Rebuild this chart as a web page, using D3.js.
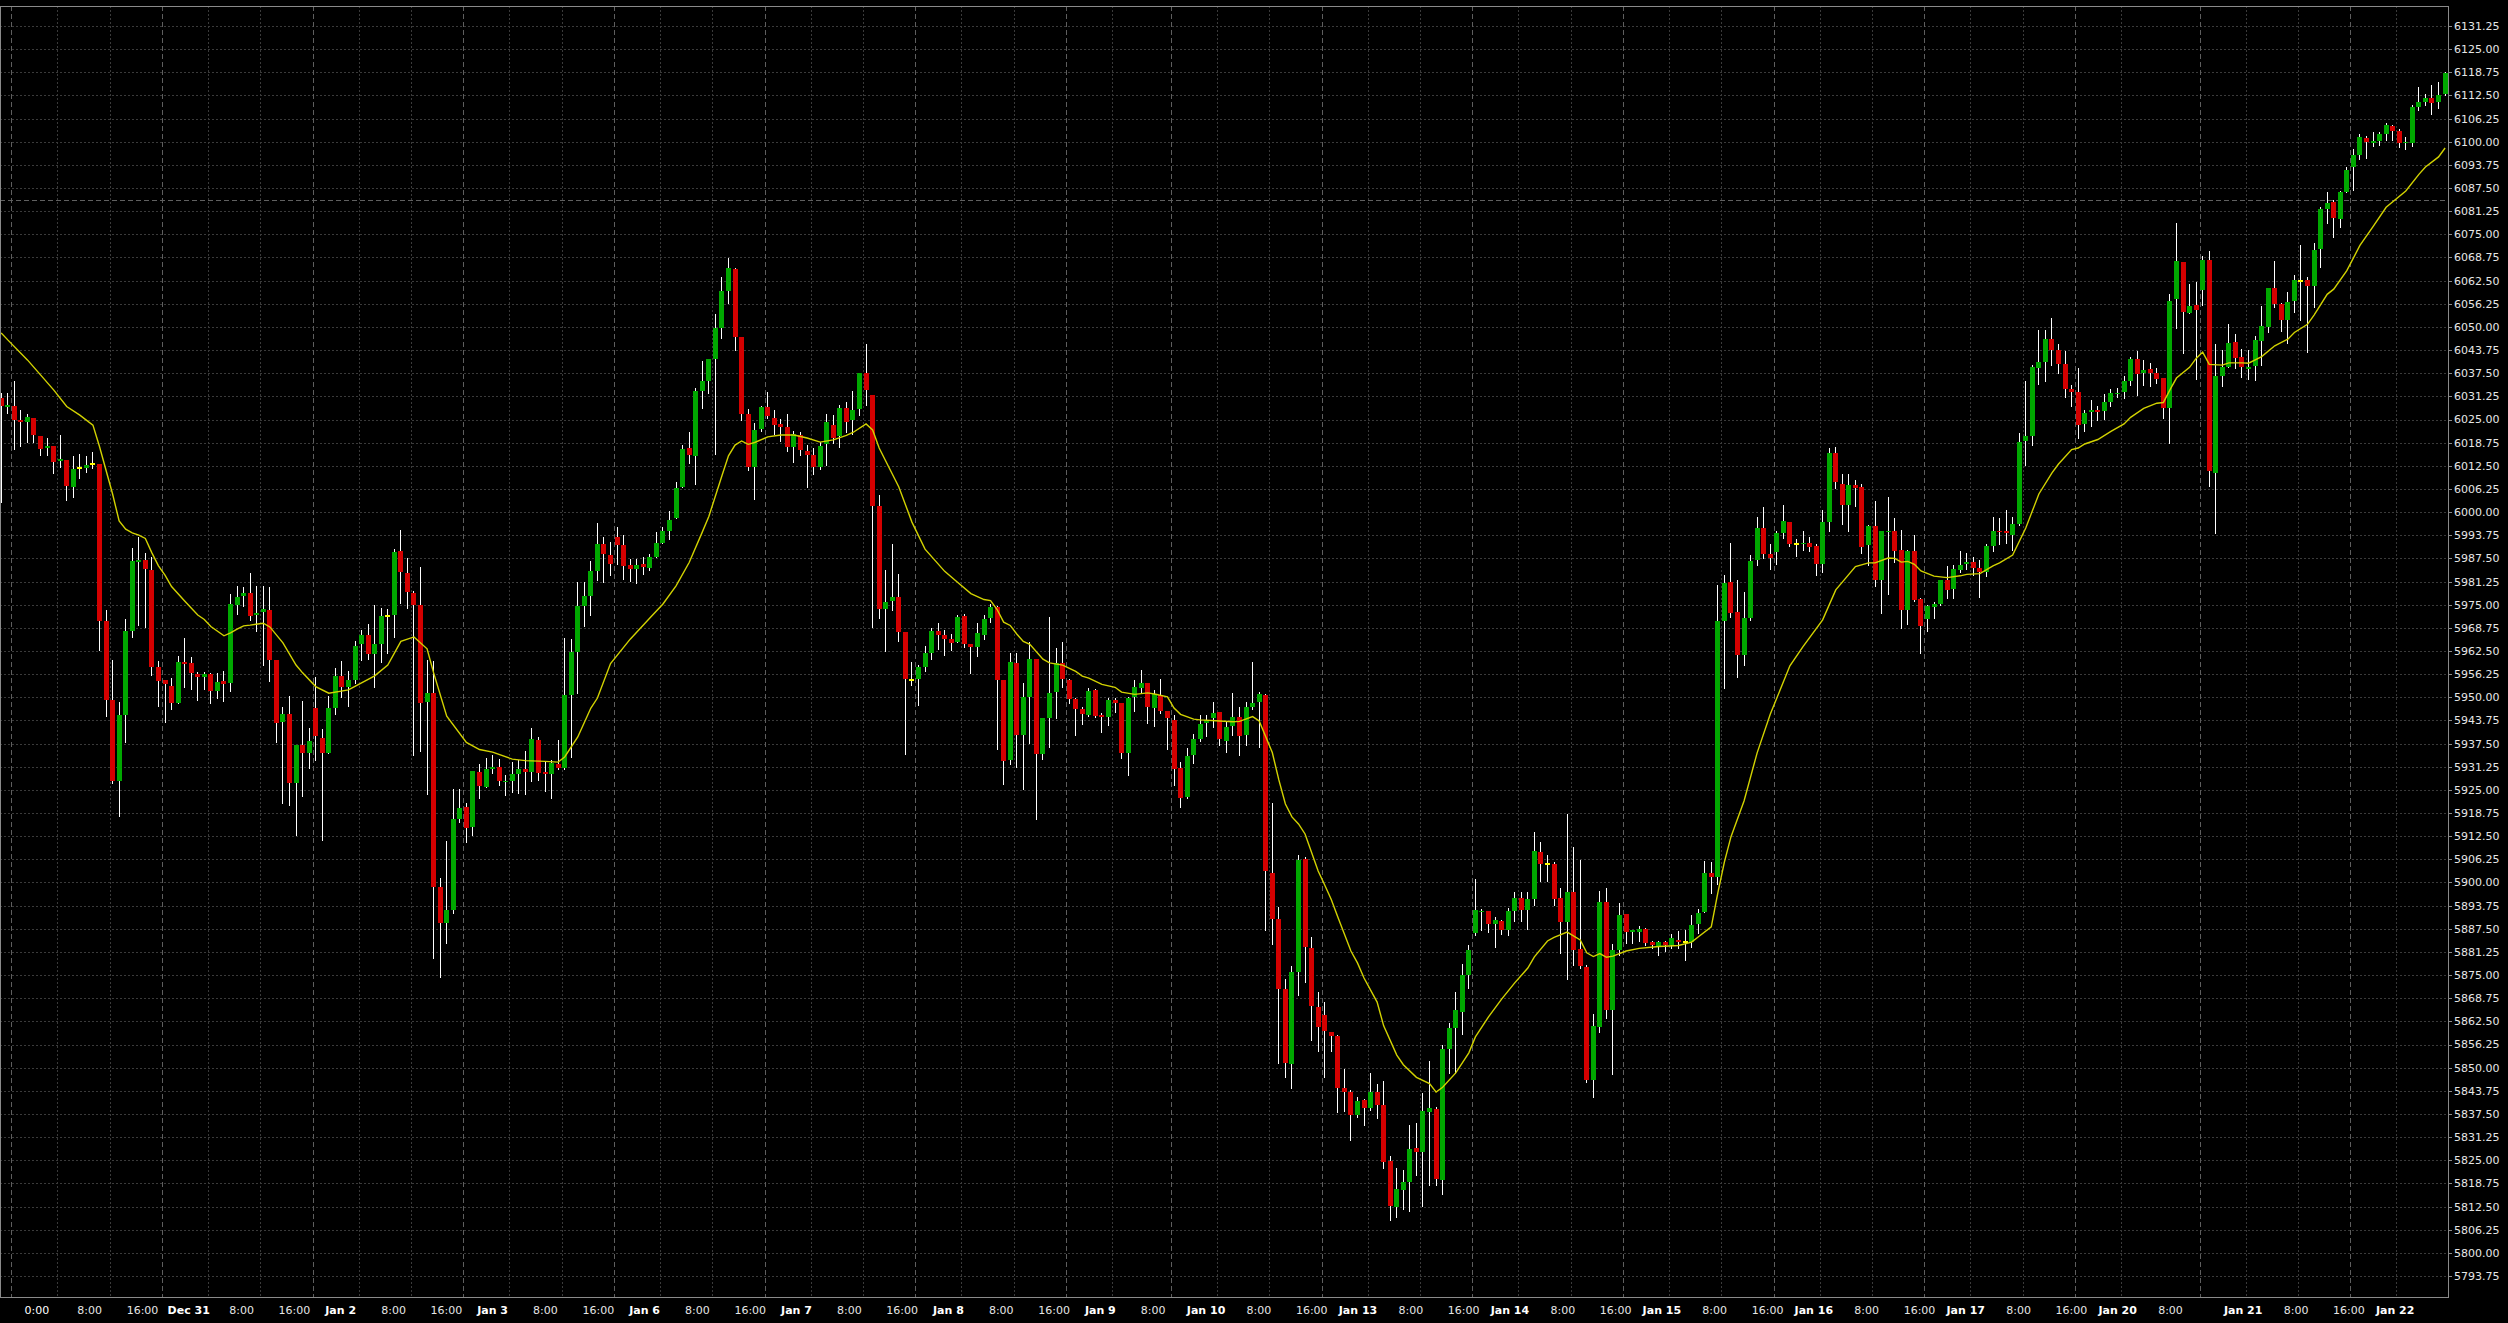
<!DOCTYPE html>
<html><head><meta charset="utf-8">
<script src="https://cdn.jsdelivr.net/npm/d3@7/dist/d3.min.js"></script>
<style>
html,body{margin:0;padding:0;background:#000;overflow:hidden}
svg{display:block}
</style></head><body>
<svg id="chart" width="2508" height="1323"></svg>
<script>
// ---- DATA (hourly candles) ----
const openP = [
6030.7,6028.5,6028.7,6024.9,6024.3,6025.4,6020.6,6017.4,6017.9,6013.7,
6014.1,6006.8,6011.8,6012.0,6012.9,6013.1,5970.6,5949.4,5927.4,5945.2,
5967.9,5986.6,5987.1,5984.4,5958.3,5954.7,5953.1,5948.5,5959.5,5959.3,
5956.3,5955.6,5956.3,5951.8,5954.4,5953.8,5974.9,5977.4,5978.1,5972.2,
5973.1,5973.6,5960.1,5943.4,5945.4,5926.9,5937.1,5935.0,5947.0,5939.1,
5934.9,5947.0,5955.8,5952.7,5954.7,5964.3,5966.8,5961.6,5964.3,5972.0,
5972.2,5989.5,5983.5,5978.1,5975.0,5948.7,5951.2,5898.9,5889.1,5892.6,
5917.1,5920.3,5915.0,5929.8,5925.7,5930.6,5931.1,5927.2,5927.4,5929.3,
5930.6,5929.7,5938.5,5929.8,5929.3,5932.1,5930.8,5950.6,5962.1,5974.7,
5977.3,5984.2,5991.5,5988.3,5993.2,5991.2,5985.7,5984.6,5986.1,5984.8,
5987.8,5991.6,5994.9,5998.3,6006.8,6017.4,6015.2,6032.7,6035.5,6041.3,
6049.7,6059.8,6065.7,6047.4,6026.4,6012.3,6022.5,6028.3,6025.4,6023.8,
6023.1,6017.7,6020.9,6016.6,6015.4,6012.1,6018.4,6023.5,6020.6,6028.0,
6024.8,6027.9,6037.5,6031.7,6001.7,5973.8,5976.1,5977.1,5967.6,5954.7,
5954.9,5958.2,5962.0,5967.9,5966.8,5965.7,5965.0,5972.0,5964.5,5963.7,
5966.9,5971.4,5974.4,5954.8,5933.1,5959.2,5939.8,5950.0,5960.3,5934.7,
5944.5,5951.5,5959.2,5954.7,5949.5,5946.8,5945.2,5952.0,5945.2,5944.8,
5949.3,5948.5,5935.0,5950.0,5952.6,5953.8,5947.2,5950.6,5946.4,5943.9,
5930.8,5923.2,5934.4,5938.7,5943.1,5944.3,5946.0,5938.3,5942.3,5944.6,
5939.8,5947.3,5948.7,5950.5,5902.6,5890.1,5871.2,5851.0,5875.7,5906.3,
5882.2,5866.3,5864.1,5859.5,5858.5,5844.5,5843.3,5837.3,5841.2,5839.1,
5843.3,5839.8,5824.8,5812.5,5817.0,5819.1,5828.3,5827.3,5838.0,5838.8,
5819.6,5855.0,5860.6,5865.1,5875.1,5886.4,5891.9,5892.3,5888.9,5889.6,
5887.1,5892.3,5895.8,5892.5,5895.5,5908.3,5905.0,5905.1,5895.8,5889.3,
5897.5,5882.0,5877.3,5846.7,5861.1,5894.8,5865.7,5881.7,5891.6,5886.7,
5886.7,5887.4,5883.9,5882.9,5883.9,5883.2,5884.5,5883.9,5884.0,5888.9,
5892.1,5902.6,5901.6,5970.7,5981.1,5973.1,5961.4,5971.4,5987.2,5995.7,
5988.7,5989.1,5994.4,5997.3,5991.3,5991.3,5991.6,5990.9,5985.9,5997.2,
6015.9,6007.5,6002.0,6007.4,6006.8,5991.0,5996.3,5981.8,5994.7,5995.0,
5989.8,5973.5,5989.6,5976.6,5971.1,5974.4,5975.1,5981.6,5979.2,5984.3,
5985.9,5986.5,5984.9,5983.9,5990.8,5995.0,5995.0,5993.9,5996.7,6019.2,
6020.6,6038.9,6040.5,6046.7,6043.9,6039.9,6033.2,6032.5,6023.7,6027.1,
6027.6,6027.4,6029.8,6031.9,6032.5,6035.4,6041.3,6037.5,6038.6,6037.6,
6036.1,6028.2,6057.5,6067.6,6053.8,6055.9,6060.0,6068.1,6010.6,6036.8,
6039.3,6045.9,6041.8,6038.6,6039.5,6046.3,6050.1,6060.4,6056.2,6051.9,
6057.1,6062.5,6062.7,6061.1,6071.0,6081.8,6083.7,6079.1,6086.5,6093.1,
6096.4,6100.9,6099.7,6100.2,6102.1,6104.3,6103.0,6099.6,6099.7,6109.3,
6110.7,6111.7,6110.6,6112.9];

const highP = [
6032.1,6032.1,6035.4,6027.6,6026.5,6025.4,6020.6,6019.9,6017.9,6020.8,
6014.1,6015.2,6015.7,6015.2,6016.3,6013.1,5973.6,5960.1,5948.8,5971.1,
5990.2,5993.4,5988.9,5988.0,5959.9,5954.7,5955.1,5961.2,5966.1,5961.0,
5956.9,5956.9,5956.5,5956.5,5957.1,5977.9,5980.1,5979.9,5983.5,5980.1,
5980.1,5979.9,5960.1,5947.5,5950.4,5937.1,5949.1,5941.7,5955.4,5941.4,
5950.4,5958.0,5959.8,5957.1,5965.3,5968.2,5969.8,5974.9,5974.0,5973.8,
5990.0,5995.2,5987.5,5978.8,5985.2,5960.2,5959.7,5901.2,5911.2,5925.2,
5925.2,5921.4,5930.1,5932.1,5933.7,5934.4,5933.4,5929.0,5932.5,5933.1,
5935.4,5941.6,5939.3,5932.5,5933.1,5938.5,5965.9,5965.7,5981.0,5981.0,
5986.8,5997.0,5993.2,5991.9,5996.1,5993.8,5987.4,5987.4,5988.0,5988.7,
5994.7,5996.0,6000.2,6008.1,6018.0,6021.5,6033.6,6040.8,6041.4,6053.4,
6063.6,6068.7,6065.9,6047.4,6027.9,6024.1,6028.7,6032.4,6027.6,6025.1,
6026.4,6021.9,6021.5,6018.0,6017.4,6018.9,6026.6,6026.1,6028.9,6029.8,
6032.7,6037.6,6045.5,6031.7,6004.6,5984.4,5991.3,5983.3,5967.6,5959.5,
5958.7,5963.9,5968.8,5970.1,5968.2,5967.0,5972.2,5972.4,5964.5,5970.1,
5972.2,5975.1,5974.7,5954.8,5962.0,5961.9,5953.8,5965.0,5960.3,5944.4,
5971.6,5963.2,5965.0,5954.9,5949.7,5947.5,5952.4,5952.2,5945.7,5949.7,
5949.7,5948.5,5950.2,5954.7,5957.4,5953.9,5952.0,5954.9,5946.4,5945.2,
5932.6,5936.2,5940.1,5945.2,5945.2,5948.8,5946.0,5943.4,5951.1,5947.5,
5948.8,5959.5,5951.4,5951.0,5921.5,5893.3,5873.9,5877.5,5907.3,5906.8,
5885.4,5870.3,5867.7,5859.5,5858.9,5849.6,5844.0,5842.0,5841.5,5848.6,
5845.7,5846.4,5826.1,5822.9,5822.4,5834.5,5835.0,5843.2,5851.8,5839.5,
5856.2,5862.1,5870.5,5878.0,5883.2,5900.9,5892.8,5892.3,5890.6,5889.9,
5893.0,5897.5,5897.5,5897.5,5913.5,5910.9,5907.3,5905.6,5898.4,5918.6,
5909.5,5906.0,5877.6,5864.6,5897.8,5898.4,5883.4,5894.5,5891.6,5887.1,
5888.3,5887.6,5884.2,5884.2,5884.2,5886.0,5886.9,5887.1,5891.1,5892.8,
5905.8,5905.5,5980.2,5982.9,5991.7,5981.6,5978.5,5988.4,5998.8,6001.4,
5991.5,5995.0,6002.0,5997.3,5992.7,5995.0,5993.2,5991.3,6000.7,6017.3,
6017.6,6010.2,6010.2,6008.8,6007.5,5996.5,6003.1,5995.0,6004.1,5998.4,
5995.3,5989.8,5993.9,5976.8,5975.0,5975.6,5981.8,5985.4,5985.6,5989.4,
5988.9,5987.9,5987.2,5991.5,5998.8,5998.4,6000.7,5998.8,6021.4,6035.3,
6039.8,6049.1,6049.1,6052.4,6045.5,6043.6,6034.2,6038.9,6027.5,6030.3,
6028.7,6031.9,6033.2,6033.4,6036.8,6042.0,6043.5,6041.1,6040.2,6038.8,
6036.1,6058.8,6078.0,6067.6,6061.6,6062.2,6069.2,6070.5,6045.4,6043.8,
6050.8,6048.1,6044.0,6043.8,6047.6,6055.7,6060.6,6067.8,6056.4,6059.5,
6064.0,6072.1,6063.6,6072.7,6082.5,6086.5,6084.3,6086.7,6093.1,6098.0,
6102.1,6101.6,6102.7,6102.6,6105.0,6104.5,6103.4,6101.2,6109.9,6114.7,
6112.9,6115.3,6116.2,6118.8];

const lowP = [
6002.8,6026.8,6017.1,6017.9,6019.0,6019.0,6015.4,6015.4,6010.6,6012.3,
6003.3,6004.2,6009.1,6010.9,6011.8,5962.8,5945.0,5926.8,5918.0,5938.0,
5966.4,5969.5,5968.9,5956.0,5947.7,5943.4,5946.8,5948.5,5952.9,5952.2,
5949.3,5952.2,5948.4,5949.9,5949.1,5951.8,5972.5,5974.7,5970.9,5968.0,
5958.7,5954.5,5938.0,5921.4,5920.9,5912.8,5923.4,5931.0,5933.1,5911.5,
5934.9,5945.5,5950.2,5947.7,5953.8,5960.1,5960.3,5952.9,5959.6,5961.9,
5966.4,5975.4,5974.0,5934.4,5935.4,5923.9,5879.7,5874.6,5883.6,5891.8,
5916.3,5911.0,5912.7,5922.7,5925.7,5929.5,5926.4,5923.5,5924.4,5924.2,
5923.9,5927.4,5927.6,5924.8,5922.7,5930.6,5930.6,5934.0,5951.2,5969.3,
5972.1,5981.6,5981.0,5982.9,5986.1,5982.0,5981.3,5980.9,5983.2,5984.5,
5987.8,5991.6,5992.8,5998.3,6006.8,6013.3,6007.6,6028.0,6032.1,6015.7,
6047.0,6056.4,6043.9,6024.8,6011.4,6003.6,6021.9,6025.3,6021.0,6019.3,
6016.4,6013.6,6015.5,6006.9,6010.4,6011.7,6012.7,6018.7,6017.7,6021.5,
6021.2,6026.1,6028.9,5969.1,5971.5,5962.6,5973.6,5965.3,5934.7,5953.3,
5947.9,5957.2,5960.3,5963.0,5961.4,5962.8,5964.9,5963.6,5956.6,5961.2,
5965.8,5970.4,5936.1,5926.5,5932.1,5931.1,5925.2,5937.6,5917.1,5933.4,
5936.7,5944.3,5952.9,5948.4,5939.8,5942.8,5945.0,5944.8,5940.7,5942.5,
5946.1,5933.5,5929.0,5946.4,5951.2,5943.1,5942.3,5945.7,5936.0,5926.3,
5920.5,5922.9,5932.2,5938.2,5939.6,5942.1,5937.1,5935.3,5939.8,5934.4,
5937.1,5946.8,5936.7,5887.1,5883.4,5851.3,5847.6,5844.5,5869.5,5873.2,
5857.5,5854.5,5847.6,5854.6,5838.0,5838.3,5830.5,5836.6,5834.6,5838.6,
5836.3,5822.9,5808.8,5809.8,5811.8,5811.3,5821.0,5812.7,5818.4,5818.4,
5816.0,5848.6,5848.6,5859.2,5871.4,5885.7,5887.1,5886.7,5882.7,5886.0,
5885.9,5889.6,5889.6,5887.4,5894.0,5900.4,5900.4,5893.8,5881.0,5873.9,
5877.8,5876.8,5846.2,5842.0,5859.7,5863.4,5848.4,5880.3,5883.7,5883.7,
5884.2,5883.2,5882.2,5880.5,5881.5,5882.2,5882.2,5879.1,5882.7,5886.4,
5891.9,5897.2,5899.7,5952.4,5971.8,5955.5,5958.8,5970.9,5985.6,5987.5,
5984.6,5986.0,5993.0,5990.8,5988.2,5989.8,5989.4,5982.9,5983.9,5994.9,
6006.6,5996.7,5994.9,6001.7,5988.9,5985.8,5980.1,5972.8,5978.0,5986.5,
5968.8,5969.9,5976.1,5961.9,5968.0,5971.5,5975.0,5976.8,5976.8,5983.7,
5984.6,5983.0,5977.0,5982.7,5989.4,5991.3,5991.7,5989.8,5996.5,6012.6,
6018.0,6034.6,6035.5,6039.6,6037.5,6031.1,6028.7,6020.1,6022.0,6023.3,
6024.9,6025.1,6028.7,6031.0,6030.9,6034.3,6031.6,6034.3,6034.1,6034.8,
6025.5,6018.6,6049.8,6043.0,6053.7,6035.9,6055.9,6007.1,5994.4,6034.1,
6039.1,6038.8,6036.4,6035.9,6035.7,6039.7,6048.7,6055.5,6049.0,6045.6,
6054.1,6051.9,6043.3,6055.5,6066.3,6078.0,6074.2,6077.1,6086.5,6087.0,
6095.3,6095.7,6098.9,6099.1,6100.5,6100.5,6098.7,6098.0,6098.9,6108.6,
6109.9,6107.5,6109.2,6112.6];

const closeP = [
6028.7,6028.9,6024.9,6024.4,6025.7,6020.8,6017.1,6017.9,6013.6,6014.3,
6007.1,6011.6,6011.8,6012.7,6012.9,5970.6,5949.4,5927.4,5945.2,5967.9,
5986.9,5987.1,5984.6,5958.3,5954.5,5953.6,5948.5,5959.5,5958.9,5956.5,
5955.4,5956.3,5951.8,5954.1,5953.5,5975.1,5977.1,5978.1,5972.0,5972.7,
5973.8,5960.1,5943.1,5945.4,5926.8,5937.1,5935.0,5938.2,5939.6,5934.9,
5947.0,5955.8,5952.7,5954.7,5963.9,5966.8,5961.6,5964.4,5972.0,5972.0,
5989.2,5983.9,5978.3,5974.9,5948.4,5951.2,5898.9,5889.1,5892.6,5917.1,
5920.0,5914.6,5930.1,5926.1,5930.6,5931.1,5927.4,5927.5,5929.3,5930.6,
5929.8,5938.7,5929.6,5929.3,5932.2,5930.8,5950.6,5962.1,5974.7,5977.3,
5984.2,5991.5,5988.7,5985.9,5991.0,5985.5,5984.6,5985.7,5985.2,5987.8,
5991.6,5994.9,5998.0,6006.5,6017.0,6015.5,6032.7,6035.5,6041.3,6049.7,
6059.8,6065.9,6047.4,6026.4,6012.3,6022.3,6028.3,6026.0,6023.6,6023.1,
6017.7,6021.2,6016.8,6015.5,6012.1,6017.9,6024.4,6020.0,6028.0,6024.4,
6027.6,6037.5,6033.0,6001.7,5973.8,5975.7,5977.1,5967.6,5954.9,5954.7,
5958.2,5962.0,5967.9,5966.8,5965.7,5964.7,5971.7,5964.5,5963.7,5967.4,
5971.1,5974.4,5954.8,5932.9,5959.5,5939.8,5950.0,5960.3,5934.7,5944.3,
5951.1,5959.2,5954.9,5949.5,5946.8,5945.5,5951.7,5945.0,5944.8,5949.3,
5948.5,5935.0,5949.7,5952.8,5953.8,5947.5,5950.8,5946.4,5944.5,5930.6,
5922.9,5934.2,5938.7,5942.8,5943.9,5945.7,5938.7,5942.1,5944.6,5939.6,
5947.3,5948.4,5951.0,5903.1,5890.1,5871.2,5851.3,5875.7,5906.1,5882.5,
5866.7,5860.9,5860.0,5858.5,5844.5,5843.5,5837.3,5841.0,5839.1,5843.3,
5840.0,5824.6,5812.7,5817.2,5819.0,5828.0,5827.3,5838.3,5839.1,5819.9,
5855.0,5860.6,5865.6,5875.1,5881.7,5892.5,5892.3,5888.9,5889.9,5887.1,
5892.3,5895.8,5892.5,5895.5,5908.6,5905.0,5905.0,5895.5,5889.3,5897.3,
5881.7,5877.5,5846.7,5861.3,5894.8,5865.7,5881.7,5891.1,5886.7,5887.1,
5887.4,5883.7,5883.2,5883.9,5883.2,5885.0,5884.0,5883.9,5888.4,5891.8,
5902.6,5901.4,5970.7,5980.8,5972.8,5961.4,5971.4,5986.8,5995.7,5988.7,
5987.6,5994.4,5997.6,5991.4,5991.3,5991.6,5990.6,5985.9,5997.2,6015.9,
6008.0,6002.0,6007.4,6006.6,5990.6,5996.3,5981.8,5994.9,5995.0,5989.6,
5973.5,5989.6,5976.4,5969.3,5974.7,5975.1,5981.6,5978.9,5984.6,5985.8,
5986.5,5984.9,5983.9,5990.8,5995.0,5994.7,5994.4,5996.7,6018.9,6020.6,
6039.3,6040.5,6046.7,6043.9,6039.9,6033.2,6032.5,6023.6,6026.8,6027.6,
6027.1,6029.8,6032.2,6032.2,6035.4,6041.3,6037.2,6038.4,6037.6,6035.9,
6028.2,6057.0,6067.8,6054.1,6055.7,6054.6,6068.1,6011.1,6036.8,6039.1,
6045.6,6041.7,6039.3,6039.1,6046.5,6050.3,6060.4,6056.2,6051.9,6056.7,
6062.7,6062.5,6061.1,6070.8,6081.8,6083.4,6079.5,6086.4,6092.4,6096.4,
6101.2,6100.0,6100.2,6102.1,6104.5,6103.0,6099.6,6100.0,6109.3,6110.7,
6111.7,6110.4,6112.6,6118.5];

const maSamples = [
[0,6048.4],[1,6046.5],[4,6041.1],[8,6033.0],[10,6028.5],[12,6026.2],[14,6023.5],[15,6017.7],[17,6004.9],[18,5997.6],
[19,5995.4],[20,5994.4],[21,5993.8],[22,5992.9],[23,5989.0],[24,5985.5],[25,5983.0],[26,5979.9],[28,5976.0],[30,5972.2],
[31,5971.0],[32,5969.1],[34,5966.6],[35,5967.4],[36,5968.4],[37,5969.3],[38,5969.5],[40,5970.0],[41,5969.0],[43,5964.7],
[45,5958.7],[46,5956.6],[48,5952.9],[50,5951.1],[53,5952.0],[55,5953.9],[57,5955.8],[59,5958.7],[61,5965.1],[63,5966.3],
[65,5963.1],[66,5956.6],[68,5944.9],[71,5937.8],[73,5935.9],[75,5935.2],[78,5933.3],[80,5932.9],[83,5932.7],[85,5932.5],
[86,5933.9],[88,5939.3],[90,5947.1],[91,5949.8],[93,5959.1],[96,5965.7],[99,5971.4],[101,5975.2],[103,5980.1],[105,5986.4],
[107,5994.6],[108,5998.8],[110,6009.8],[111,6015.2],[112,6018.1],[113,6019.2],[114,6018.3],[115,6018.8],[117,6020.3],[119,6020.8],
[121,6020.8],[123,6020.0],[125,6018.9],[127,6019.5],[129,6020.7],[130,6021.5],[132,6023.8],[133,6022.2],[134,6017.3],[137,6006.8],
[139,5997.3],[141,5990.0],[144,5984.0],[146,5981.0],[148,5978.0],[150,5976.4],[151,5976.1],[152,5973.7],[153,5970.3],[154,5969.4],
[155,5967.1],[156,5965.1],[157,5964.3],[159,5960.3],[160,5959.3],[162,5958.7],[164,5957.0],[165,5955.7],[166,5955.2],[168,5953.5],
[170,5952.7],[171,5951.4],[173,5950.8],[175,5951.2],[176,5950.9],[178,5950.1],[179,5947.1],[180,5945.4],[182,5944.1],[183,5943.9],
[186,5943.6],[188,5943.4],[189,5943.5],[191,5944.8],[192,5943.6],[194,5935.1],[195,5927.7],[196,5921.2],[197,5917.7],[198,5915.8],
[199,5913.1],[201,5903.1],[202,5899.3],[203,5895.4],[204,5890.7],[206,5881.5],[207,5878.3],[208,5874.2],[210,5867.7],[211,5861.3],
[213,5853.4],[214,5850.8],[216,5847.4],[218,5845.7],[219,5843.4],[220,5844.7],[222,5848.6],[224,5854.0],[225,5858.3],[227,5863.7],
[229,5868.5],[231,5872.9],[233,5876.9],[234,5879.9],[236,5884.2],[237,5885.2],[239,5886.6],[241,5884.5],[242,5881.0],[243,5880.0],
[244,5880.8],[245,5879.8],[246,5880.1],[248,5881.5],[250,5882.2],[253,5882.7],[256,5883.0],[258,5883.9],[259,5885.3],[261,5888.0],
[262,5897.2],[263,5905.5],[264,5912.3],[266,5922.0],[268,5935.0],[270,5945.4],[273,5958.5],[275,5963.7],[278,5970.9],[280,5979.0],
[281,5981.1],[283,5985.3],[285,5986.3],[286,5986.3],[288,5987.6],[289,5987.5],[290,5986.5],[291,5986.7],[292,5985.9],[293,5984.1],
[295,5982.7],[297,5982.3],[299,5982.8],[300,5983.2],[302,5983.4],[304,5985.5],[305,5986.3],[307,5988.4],[309,5995.7],[311,6004.9],
[313,6010.6],[314,6013.0],[316,6016.9],[317,6017.3],[318,6018.4],[320,6019.6],[322,6021.8],[324,6023.8],[325,6025.6],[327,6028.0],
[329,6029.4],[330,6029.6],[331,6033.0],[332,6036.2],[334,6039.1],[335,6041.5],[336,6043.2],[337,6039.9],[339,6039.7],[340,6040.3],
[342,6040.3],[343,6040.2],[345,6042.0],[347,6044.9],[349,6046.7],[350,6048.5],[352,6050.7],[353,6053.2],[355,6058.8],[356,6060.2],
[358,6065.2],[360,6072.0],[362,6077.1],[364,6082.3],[367,6086.7],[369,6091.2],[370,6093.2],[372,6095.9],[373,6098.3]];

// x-axis labels: [candle index, text]
const dayTicks = [[2,"0:00"],[25,"Dec 31"],[48,"Jan 2"],[71,"Jan 3"],[94,"Jan 6"],[117,"Jan 7"],[140,"Jan 8"],
  [163,"Jan 9"],[179,"Jan 10"],[202,"Jan 13"],[225,"Jan 14"],[248,"Jan 15"],[271,"Jan 16"],[294,"Jan 17"],
  [317,"Jan 20"],[336,"Jan 21"],[359,"Jan 22"]];
const hourTicks = [[9,"8:00"],[17,"16:00"],[32,"8:00"],[40,"16:00"],[55,"8:00"],[63,"16:00"],[78,"8:00"],[86,"16:00"],
  [101,"8:00"],[109,"16:00"],[124,"8:00"],[132,"16:00"],[147,"8:00"],[155,"16:00"],[170,"8:00"],[186,"8:00"],
  [194,"16:00"],[209,"8:00"],[217,"16:00"],[232,"8:00"],[240,"16:00"],[255,"8:00"],[263,"16:00"],[278,"8:00"],
  [286,"16:00"],[301,"8:00"],[309,"16:00"],[324,"8:00"],[343,"8:00"],[351,"16:00"],[366,"8:00"]];
const yTickFirst = 5793.75, yTickLast = 6131.25, yTickStep = 6.25;
const levelPrice = 6084.2;

// ---- DRAWING ----
const W = 2508, H = 1323;
const P = {left:0, right:2448, top:6, bottom:1298};
const n = openP.length;
const x = d3.scaleLinear().domain([0, 373]).range([1.2, 2445.1]);
const xLab = d3.scaleLinear().domain([0, 373]).range([23.6, 2487.6]);
const y = d3.scaleLinear().domain([yTickFirst, yTickLast]).range([1276, 26]);

const svg = d3.select("#chart");
svg.append("rect").attr("width", W).attr("height", H).attr("fill", "#000");
svg.append("defs").append("clipPath").attr("id", "plotclip")
  .append("rect").attr("x", P.left + 1).attr("y", P.top + 1)
  .attr("width", P.right - P.left - 1).attr("height", P.bottom - P.top - 1);

const grid = svg.append("g").attr("shape-rendering", "crispEdges").attr("clip-path", "url(#plotclip)");
const yTicks = d3.range(0, Math.round((yTickLast - yTickFirst) / yTickStep) + 1).map(k => yTickFirst + k * yTickStep);
grid.selectAll("line.h").data(yTicks).join("line").attr("class", "h")
  .attr("x1", P.left).attr("x2", P.right)
  .attr("y1", d => Math.round(y(d)) + 0.5).attr("y2", d => Math.round(y(d)) + 0.5)
  .attr("stroke", "#3a3a3a").attr("stroke-dasharray", "2,2");
grid.selectAll("line.vh").data(hourTicks).join("line").attr("class", "vh")
  .attr("x1", d => Math.round(x(d[0]) - 3) + 0.5).attr("x2", d => Math.round(x(d[0]) - 3) + 0.5)
  .attr("y1", P.top).attr("y2", P.bottom)
  .attr("stroke", "#3a3a3a").attr("stroke-dasharray", "2,2");
grid.selectAll("line.vd").data(dayTicks).join("line").attr("class", "vd")
  .attr("x1", d => Math.round(x(d[0]) - 3) + 0.5).attr("x2", d => Math.round(x(d[0]) - 3) + 0.5)
  .attr("y1", P.top).attr("y2", P.bottom)
  .attr("stroke", "#5e5e5e").attr("stroke-dasharray", "5,3");
grid.append("line")
  .attr("x1", P.left).attr("x2", P.right)
  .attr("y1", Math.round(y(levelPrice)) + 0.5).attr("y2", Math.round(y(levelPrice)) + 0.5)
  .attr("stroke", "#606060").attr("stroke-dasharray", "5,3");

// candles
const idx = d3.range(n);
const cg = svg.append("g").attr("clip-path", "url(#plotclip)").attr("shape-rendering", "crispEdges");
const bodyLeft = i => Math.round(x(i) - 2.5);
cg.selectAll("line.wick").data(idx).join("line").attr("class", "wick")
  .attr("x1", i => bodyLeft(i) + 2.5).attr("x2", i => bodyLeft(i) + 2.5)
  .attr("y1", i => Math.round(y(highP[i]))).attr("y2", i => Math.round(y(lowP[i])) + 1)
  .attr("stroke", "#ffffff").attr("stroke-width", 1);
cg.selectAll("rect.body").data(idx).join("rect").attr("class", "body")
  .attr("x", i => bodyLeft(i)).attr("width", 5)
  .attr("y", i => {
    if (openP[i] === closeP[i]) return Math.round(y(openP[i])) - 1;
    return Math.round(y(Math.max(openP[i], closeP[i])));
  })
  .attr("height", i => {
    if (openP[i] === closeP[i]) return 2;
    return Math.max(1, Math.round(y(Math.min(openP[i], closeP[i]))) - Math.round(y(Math.max(openP[i], closeP[i]))));
  })
  .attr("fill", i => openP[i] === closeP[i] ? "#ffff00" : (closeP[i] > openP[i] ? "#00a800" : "#d40000"));

// moving average
svg.append("path").attr("clip-path", "url(#plotclip)")
  .datum(maSamples)
  .attr("d", d3.line().x(d => x(d[0])).y(d => y(d[1])))
  .attr("fill", "none").attr("stroke", "#d2d200").attr("stroke-width", 1.4);

// frame
const fr = svg.append("g").attr("shape-rendering", "crispEdges").attr("stroke", "#8a8a8a");
fr.append("line").attr("x1", 0.5).attr("x2", 0.5).attr("y1", P.top).attr("y2", P.bottom);
fr.append("line").attr("x1", 0).attr("x2", P.right + 1).attr("y1", P.top + 0.5).attr("y2", P.top + 0.5);
fr.append("line").attr("x1", P.right + 0.5).attr("x2", P.right + 0.5).attr("y1", P.top).attr("y2", P.bottom);
fr.append("line").attr("x1", 0).attr("x2", P.right + 1).attr("y1", P.bottom - 0.5).attr("y2", P.bottom - 0.5);

// y axis
const ya = svg.append("g");
ya.selectAll("line").data(yTicks).join("line")
  .attr("shape-rendering", "crispEdges")
  .attr("x1", P.right + 1).attr("x2", P.right + 4)
  .attr("y1", d => Math.round(y(d)) + 0.5).attr("y2", d => Math.round(y(d)) + 0.5)
  .attr("stroke", "#8a8a8a");
ya.selectAll("text").data(yTicks).join("text")
  .attr("x", 2454).attr("y", d => y(d)).attr("dy", "0.36em")
  .attr("font-family", "DejaVu Sans, Verdana, sans-serif").attr("font-size", 11)
  .attr("fill", "#e6e6e6")
  .text(d => d3.format(".2f")(d));

// x labels
const xa = svg.append("g").attr("font-family", "DejaVu Sans, Verdana, sans-serif").attr("font-size", 11)
  .attr("fill", "#ffffff").attr("text-anchor", "middle");
xa.selectAll("text.day").data(dayTicks).join("text").attr("class", "day")
  .attr("x", d => xLab(d[0])).attr("y", 1313.5)
  .attr("font-weight", d => /^[A-Z]/.test(d[1]) ? "bold" : "normal")
  .text(d => d[1]);
xa.selectAll("text.hour").data(hourTicks.filter(d => xLab(d[0] + 1) < P.right - 20)).join("text").attr("class", "hour")
  .attr("x", d => xLab(d[0] + 1)).attr("y", 1313.5)
  .attr("fill", "#e6e6e6")
  .text(d => d[1]);
</script>
</body></html>
